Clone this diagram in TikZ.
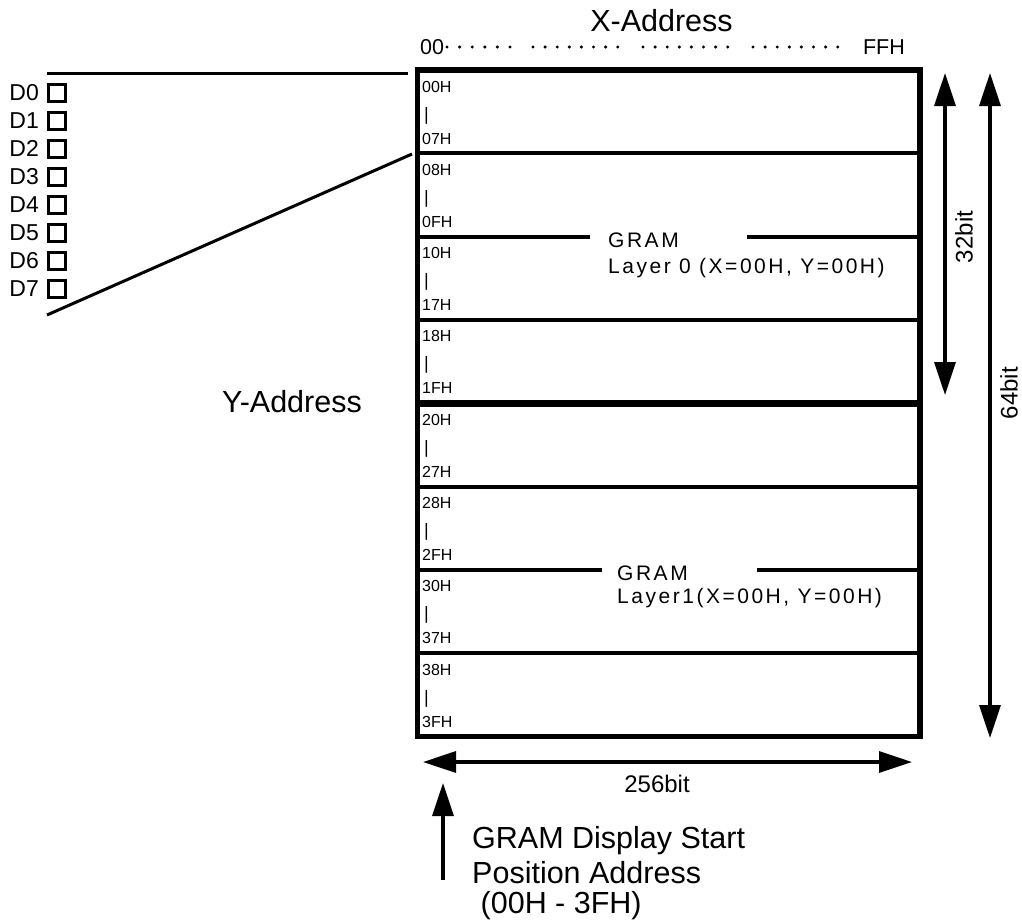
\documentclass[tikz,border=0pt]{standalone}
\usepackage{fontspec}
\setmainfont{Liberation Sans}
\usetikzlibrary{arrows.meta,positioning}

\tikzset{
  rowlbl/.style={anchor=base west, inner sep=0pt, font=\fontsize{16}{16}\selectfont},
  pinbox/.style={draw, line width=2.8pt, minimum size=16.5pt, inner sep=0pt},
  pinlbl/.style={anchor=base east, inner sep=0pt, font=\fontsize{23}{23}\selectfont},
  bitarrow/.style={line width=3.3pt, {Triangle[length=33pt,width=21pt]}-{Triangle[length=33pt,width=21pt]}},
  bigtxt/.style={inner sep=0pt, font=\fontsize{30.5}{30.5}\selectfont},
  midtxt/.style={inner sep=0pt, font=\fontsize{24}{24}\selectfont},
  layertxt/.style={anchor=base west, inner sep=0pt, font=\fontsize{21}{21}\selectfont\addfontfeature{LetterSpace=12}},
}

\begin{document}
\begin{tikzpicture}[x=1pt, y=-1pt]
\useasboundingbox (0,0) rectangle (1022,922);

% GRAM block
\coordinate (ram-nw) at (417.5,70);
\coordinate (ram-se) at (920,736.5);
\draw[line width=5.5pt] (ram-nw) rectangle (ram-se);

% row dividers and row labels
\foreach \i/\top/\bot in {0/00H/07H, 1/08H/0FH, 2/10H/17H, 3/18H/1FH,
                          4/20H/27H, 5/28H/2FH, 6/30H/37H, 7/38H/3FH} {
  \pgfmathsetmacro{\ytop}{70+83.3125*\i}
  \node[rowlbl] (row-\i-a) at (422,\ytop+22) {\top};
  \node[rowlbl, font=\fontsize{18}{18}\selectfont] (row-\i-b) at (424,\ytop+50) {|};
  \node[rowlbl] (row-\i-c) at (422,\ytop+74) {\bot};
}
\foreach \i in {1,5} {
  \draw[line width=4pt] (417.5,{70+83.3125*\i}) -- (920,{70+83.3125*\i});
}
\draw[line width=6.5pt] (417.5,403.25) -- (920,403.25);
\foreach \i in {3,7} {
  \draw[line width=4pt] (417.5,{70+83.3125*\i}) -- (920,{70+83.3125*\i});
}

% layer labels, dividers broken round them
\node[layertxt] (gram0) at (608,247) {GRAM};
\node[layertxt] (layer0) at (608,273) {Layer 0 (X=00H, Y=00H)};
\draw[line width=4pt] (417.5,236.6) -- (590,236.6);
\draw[line width=4pt] (747,236.6) -- (920,236.6);

\node[layertxt] (gram1) at (617,580) {GRAM};
\node[layertxt] (layer1) at (617,603) {Layer1(X=00H, Y=00H)};
\draw[line width=4pt] (417.5,570) -- (602,570);
\draw[line width=4pt] (757,570) -- (920,570);

% X address
\node[bigtxt, anchor=base] (xaddr) at (661.5,31.7) {X-Address};
\node[inner sep=0pt, anchor=base west, font=\fontsize{21.5}{21.5}\selectfont] (x00) at (420,54) {00};
\node[inner sep=0pt, anchor=base east, font=\fontsize{21.5}{21.5}\selectfont] (xff) at (905,54) {FFH};
\foreach \x/\n/\d in {447/6/12.6, 533/8/12.1, 643/8/12.1, 753/8/12.1} {
  \foreach \k in {1,...,\n} {
    \fill ({\x+(\k-1)*\d},47) circle (1.7);
  }
}

% Y address
\node[bigtxt, anchor=base west] (yaddr) at (222,412.7) {Y-Address};

% data bits
\foreach \k in {0,...,7} {
  \node[pinlbl] (d\k) at (39,{100+28*\k}) {D\k};
  \node[pinbox] (pin\k) at (57,{93+28*\k}) {};
}
\coordinate (fan-top-l) at (47,73);
\coordinate (fan-top-r) at (408,73);
\coordinate (fan-bot-l) at (47,315);
\coordinate (fan-bot-r) at (412,154);
\draw[line width=3pt] (fan-top-l) -- (fan-top-r);
\draw[line width=3pt] (fan-bot-l) -- (fan-bot-r);

% size arrows
\coordinate (h32-a) at (945,73);
\coordinate (h32-b) at (945,395);
\draw[bitarrow] (h32-a) -- (h32-b);
\node[midtxt, rotate=90] (h32) at (964,237) {32bit};

\coordinate (h64-a) at (990,73);
\coordinate (h64-b) at (990,738);
\draw[bitarrow] (h64-a) -- (h64-b);
\node[midtxt, rotate=90] (h64) at (1009,393) {64bit};

\coordinate (w256-a) at (423,762);
\coordinate (w256-b) at (912,762);
\draw[bitarrow] (w256-a) -- (w256-b);
\node[midtxt, anchor=base] (w256) at (657,792) {256bit};

% start address
\coordinate (start-a) at (443,880);
\coordinate (start-b) at (443,783);
\draw[line width=3.3pt, -{Triangle[length=33pt,width=21pt]}] (start-a) -- (start-b);
\node[bigtxt, anchor=base west] (start1) at (472,848) {GRAM Display Start};
\node[bigtxt, anchor=base west] (start2) at (472,883) {Position Address};
\node[bigtxt, anchor=base west] (start3) at (472,913) {\ (00H - 3FH)};

\end{tikzpicture}
\end{document}
